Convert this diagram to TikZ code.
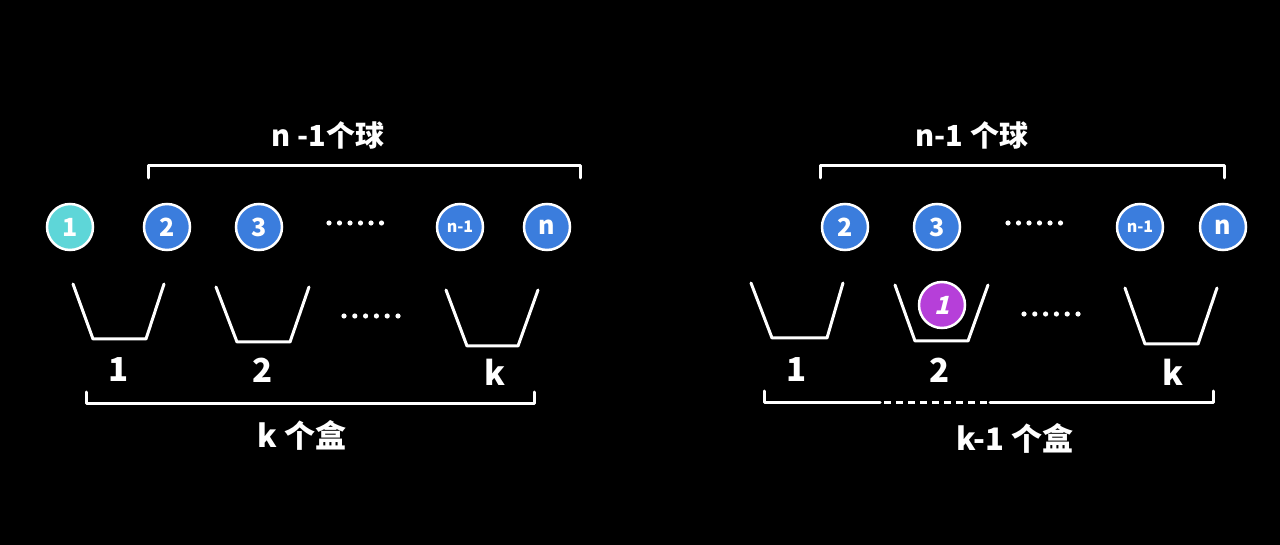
\documentclass[tikz,border=0pt]{standalone}
\usepackage{fontspec}
\setmainfont{Noto Sans CJK SC}
\newfontfamily\slantfont[FakeSlant=0.25]{Noto Sans CJK SC}
\definecolor{ballblue}{HTML}{3B7DDD}
\definecolor{ballcyan}{HTML}{5ED6D8}
\definecolor{ballpurple}{HTML}{B63FD9}
\begin{document}
\begin{tikzpicture}[x=1pt,y=-1pt,
  ball/.style={circle, draw=white, line width=2.5pt, minimum size=46pt, inner sep=0pt, text=white, font=\bfseries\fontsize{25}{25}\selectfont},
  blueball/.style={ball, fill=ballblue},
  wline/.style={white, line width=3pt, line cap=round, line join=round},
  title/.style={text=white, inner sep=0pt, font=\bfseries\fontsize{29}{29}\selectfont},
  boxlab/.style={text=white, inner sep=0pt, font=\bfseries\fontsize{33}{33}\selectfont},
  dotmark/.style={white, fill=white}
]
\fill[black] (0,0) rectangle (1280,545);
\useasboundingbox (0,0) rectangle (1280,545);

% ---------- left panel ----------
\node[title] (tl) at (328,135) {n -1个球};
\draw[wline] (148,178) -- (148,166) -- (580,166) -- (580,178);

\node[ball, fill=ballcyan] (l1) at (70,227) {1};
\node[blueball] (l2) at (167,227) {2};
\node[blueball] (l3) at (259,227) {3};
\node[blueball, font=\bfseries\fontsize{16}{16}\selectfont] (ln1) at (460,227) {n-1};
\node[blueball] (ln) at (547,227) {n};
\foreach \i in {0,...,5} \fill[dotmark] (329+\i*10.5,223) circle (2.6);

\draw[wline] (73,284) -- (93,339) -- (146,339) -- (164,284);
\draw[wline] (216,287) -- (237,342) -- (290,342) -- (309,287);
\draw[wline] (446,290) -- (467,346) -- (518,346) -- (538,290);
\foreach \i in {0,...,5} \fill[dotmark] (344+\i*10.8,316) circle (2.6);

\node[boxlab] (lb1) at (119,370) {1};
\node[boxlab] (lb2) at (263,370) {2};
\node[boxlab] (lbk) at (495,372) {k};
\draw[wline] (86,392) -- (86,403) -- (534,403) -- (534,392);
\node[title, font=\bfseries\fontsize{31}{31}\selectfont] (bl) at (302,435) {k 个盒};

% ---------- right panel ----------
\node[title] (tr) at (972,135) {n-1 个球};
\draw[wline] (820,178) -- (820,166) -- (1224,166) -- (1224,178);

\node[blueball] (r2) at (845,227) {2};
\node[blueball] (r3) at (937,227) {3};
\node[blueball, font=\bfseries\fontsize{16}{16}\selectfont] (rn1) at (1140,227) {n-1};
\node[blueball] (rn) at (1223,227) {n};
\foreach \i in {0,...,5} \fill[dotmark] (1008+\i*10.5,223) circle (2.6);

\draw[wline] (751,283) -- (772,338) -- (827,338) -- (843,283);
\draw[wline] (895,285) -- (915,341) -- (968,341) -- (988,285);
\draw[wline] (1125,288) -- (1145,344) -- (1198,344) -- (1217,288);
\node[ball, fill=ballpurple, font=\slantfont\bfseries\fontsize{25}{25}\selectfont] (r1) at (942,305) {1};
\foreach \i in {0,...,5} \fill[dotmark] (1024+\i*10.8,314) circle (2.6);

\node[boxlab] (rb1) at (797,370) {1};
\node[boxlab] (rb2) at (940,370) {2};
\node[boxlab] (rbk) at (1173,372) {k};
\draw[wline] (880,402) -- (764,402) -- (764,391);
\draw[wline] (990,402) -- (1213,402) -- (1213,391);
\draw[wline, line cap=butt, dash pattern=on 7pt off 5pt] (884,402) -- (990,402);
\node[title, font=\bfseries\fontsize{31}{31}\selectfont] (br) at (1015,438) {k-1 个盒};
\end{tikzpicture}
\end{document}
